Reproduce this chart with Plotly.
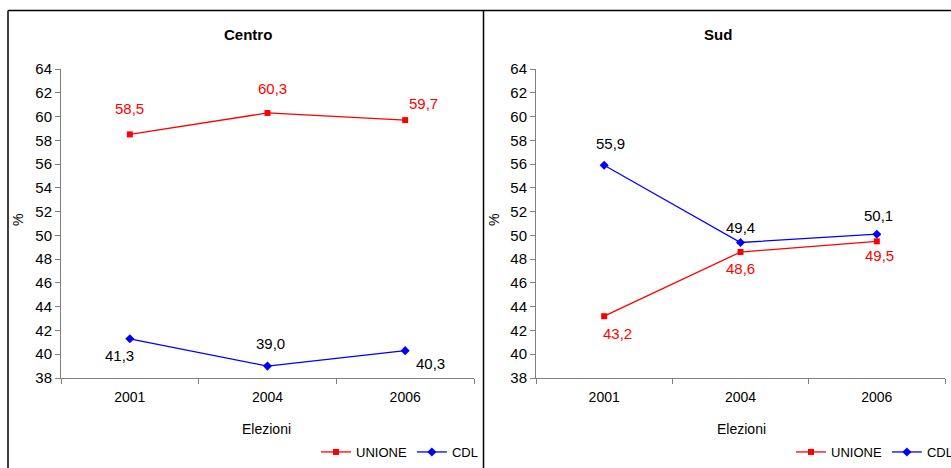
import plotly.graph_objects as go

# Election results by area (percent of vote)
years = ["2001", "2004", "2006"]
centro_unione = [58.5, 60.3, 59.7]
centro_cdl = [41.3, 39.0, 40.3]
sud_unione = [43.2, 48.6, 49.5]
sud_cdl = [55.9, 49.4, 50.1]
y_ticks = list(range(38, 65, 2))

W, H = 951, 468
RED = "#FF0000"
BLUE = "#0000FF"
FONT = "Liberation Sans, Arial, sans-serif"

# label offsets in pixels (xshift, yshift) for each point
off_c_un = [(0, 26), (5, 24), (18, 17)]
off_c_cd = [(-10, -17), (3, 23), (25, -13)]
off_s_un = [(13, -17), (0, -16), (3, -14)]
off_s_cd = [(6, 22), (0, 15), (2, 19)]


def fmt(v):
    return f"{v:.1f}".replace(".", ",")


fig = go.Figure()


def add_series(xa, ya, vals, name, color, symbol, legend, offsets, lab_color):
    fig.add_trace(go.Scatter(
        x=years, y=vals, name=name, mode="lines+markers",
        xaxis=xa, yaxis=ya, legend=legend,
        line=dict(color=color, width=1.3),
        marker=dict(color=color, symbol=symbol, size=6 if symbol == "square" else 7),
    ))
    for i, (yv, (dx, dy)) in enumerate(zip(vals, offsets)):
        # category axes: annotations are placed by category index
        fig.add_annotation(
            x=i, y=yv, xref=xa, yref=ya, text=fmt(yv), showarrow=False,
            xshift=dx, yshift=dy, xanchor="center", yanchor="middle",
            font=dict(family=FONT, size=15, color=lab_color),
        )


add_series("x", "y", centro_unione, "UNIONE", RED, "square", "legend", off_c_un, RED)
add_series("x", "y", centro_cdl, "CDL", BLUE, "diamond", "legend", off_c_cd, "#000000")
add_series("x2", "y2", sud_unione, "UNIONE", RED, "square", "legend2", off_s_un, RED)
add_series("x2", "y2", sud_cdl, "CDL", BLUE, "diamond", "legend2", off_s_cd, "#000000")

y_dom = [1 - 378 / H, 1 - 69 / H]
axis_common = dict(
    showgrid=False, zeroline=False, showline=True, linecolor="#808080", linewidth=1,
    ticks="outside", ticklen=5, tickcolor="#808080",
)
x_common = dict(axis_common, type="category", range=[-0.5, 2.5], tickson="boundaries",
                categoryorder="array", categoryarray=years, ticklabelstandoff=6,
                tickfont=dict(family=FONT, size=14, color="#000000"))
y_common = dict(axis_common, range=[38, 64], tickvals=y_ticks,
                ticktext=[str(v) for v in y_ticks],
                tickfont=dict(family=FONT, size=15, color="#000000"))

legend_common = dict(orientation="h", y=1 - 452 / H, yanchor="middle", xanchor="left",
                     font=dict(family=FONT, size=13, color="#000000"),
                     bgcolor="rgba(0,0,0,0)", itemwidth=30, tracegroupgap=0)

fig.update_layout(
    width=W, height=H,
    margin=dict(l=0, r=0, t=0, b=0, autoexpand=False),
    paper_bgcolor="white", plot_bgcolor="white",
    xaxis=dict(x_common, domain=[61 / W, 474 / W], anchor="y"),
    yaxis=dict(y_common, domain=y_dom, anchor="x"),
    xaxis2=dict(x_common, domain=[536 / W, 945 / W], anchor="y2"),
    yaxis2=dict(y_common, domain=y_dom, anchor="x2"),
    legend=dict(legend_common, x=316 / W),
    legend2=dict(legend_common, x=791 / W),
    showlegend=True,
)

# panel frames
top = 1 - 10.5 / H
line_style = dict(color="#000000", width=1.5)
fig.add_shape(type="line", xref="paper", yref="paper", x0=8 / W, x1=1, y0=top, y1=top, line=line_style)
fig.add_shape(type="line", xref="paper", yref="paper", x0=8 / W, x1=8 / W, y0=0, y1=top, line=line_style)
fig.add_shape(type="line", xref="paper", yref="paper", x0=483.5 / W, x1=483.5 / W, y0=0, y1=top, line=line_style)

# panel titles and axis titles
text_pos = dict(xref="paper", yref="paper", showarrow=False, xanchor="center", yanchor="middle")
for cx, title in [(248, "Centro"), (718, "Sud")]:
    fig.add_annotation(x=cx / W, y=1 - 35 / H, text=f"<b>{title}</b>", **text_pos,
                       font=dict(family=FONT, size=15, color="#000000"))
for cx in [18, 494]:
    fig.add_annotation(x=cx / W, y=1 - 220 / H, text="%", textangle=-90, **text_pos,
                       font=dict(family=FONT, size=14, color="#000000"))
for cx in [266, 741]:
    fig.add_annotation(x=cx / W, y=1 - 429 / H, text="Elezioni", **text_pos,
                       font=dict(family=FONT, size=14, color="#000000"))

fig.write_html("out.html")
